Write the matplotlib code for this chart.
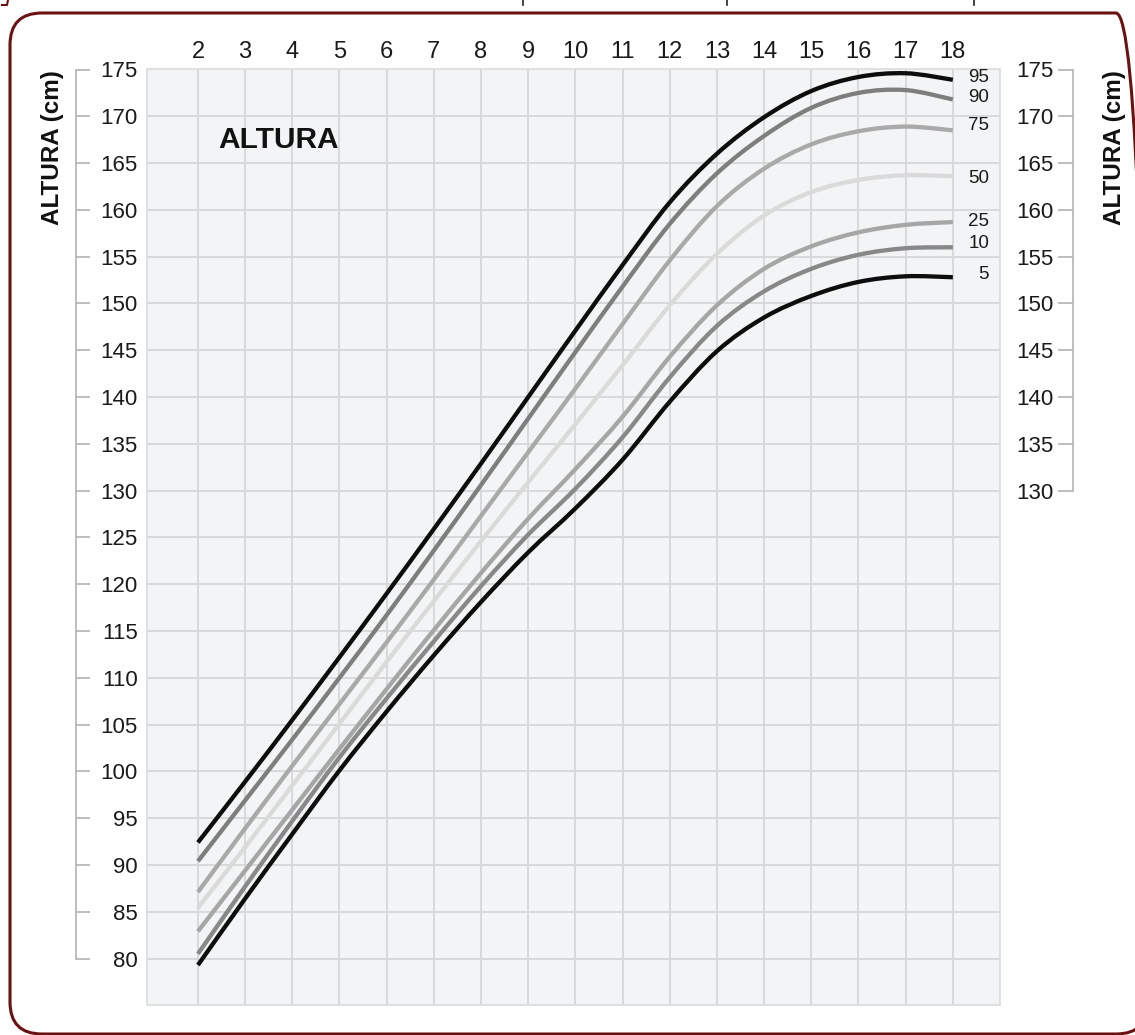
import matplotlib
matplotlib.use('Agg')
import matplotlib.pyplot as plt
from matplotlib.patches import FancyBboxPatch, PathPatch
from matplotlib.path import Path
from matplotlib.lines import Line2D
from matplotlib import font_manager

# ---------------- data ----------------
ages = [2, 3, 4, 5, 6, 7, 8, 9, 10, 11, 12, 13, 14, 15, 16, 17, 18]
p95 = [92.4, 98.9, 105.5, 112.2, 119.0, 125.9, 132.9, 140.0, 147.1, 154.1, 160.8, 166.0, 169.9, 172.7, 174.2, 174.6, 173.9]
p90 = [90.4, 96.9, 103.4, 110.0, 116.7, 123.6, 130.6, 137.7, 144.8, 151.8, 158.5, 163.9, 167.9, 170.9, 172.5, 172.8, 171.8]
p75 = [87.1, 93.9, 100.6, 107.2, 113.8, 120.5, 127.3, 134.1, 140.9, 147.8, 154.6, 160.4, 164.4, 167.0, 168.4, 168.9, 168.5]
p50 = [85.4, 91.9, 98.5, 105.1, 111.7, 118.2, 124.6, 130.9, 137.1, 143.4, 149.8, 155.3, 159.4, 161.9, 163.2, 163.7, 163.6]
p25 = [82.9, 89.4, 95.9, 102.4, 108.8, 115.1, 121.2, 127.0, 132.3, 137.9, 144.3, 149.8, 153.7, 156.1, 157.6, 158.4, 158.7]
p10 = [80.5, 87.7, 94.7, 101.5, 107.8, 113.9, 119.8, 125.3, 130.2, 135.7, 142.1, 147.6, 151.3, 153.7, 155.2, 155.9, 156.0]
p5 = [79.3, 86.4, 93.3, 100.1, 106.4, 112.4, 118.1, 123.4, 128.1, 133.3, 139.5, 144.9, 148.5, 150.8, 152.3, 152.9, 152.8]

percentile_names = ['95', '90', '75', '50', '25', '10', '5']
series = [p95, p90, p75, p50, p25, p10, p5]

left_ticks = list(range(80, 176, 5))
right_ticks = list(range(130, 176, 5))
axis_label = 'ALTURA (cm)'
panel_title = 'ALTURA'

# ---------------- styles / layout ----------------
colors = ['#0d0d0d', '#7e7e7e', '#a9a9a9', '#dadada', '#a6a6a6', '#888888', '#0d0d0d']
zorders = [9, 8, 7, 4, 5, 6, 9]
label_y = [174.1, 172.0, 169.0, 163.3, 158.8, 156.4, 153.1]

W, H = 1135, 1035
fig = plt.figure(figsize=(W / 100, H / 100), dpi=100)
fig.patch.set_facecolor('white')

names = {f.name for f in font_manager.fontManager.ttflist}
SANS = 'Liberation Sans' if 'Liberation Sans' in names else 'DejaVu Sans'
NARROW = 'Liberation Sans Narrow' if 'Liberation Sans Narrow' in names else SANS
plt.rcParams['font.family'] = [SANS, 'DejaVu Sans']


def fx(px):
    return px / W


def fy(py):
    return 1 - py / H


def smooth_path(xs, ys):
    """Cubic Bezier path passing through every data point (Catmull-Rom tangents)."""
    pts = list(zip(xs, ys))
    n = len(pts)
    verts = [pts[0]]
    codes = [Path.MOVETO]
    for i in range(n - 1):
        p0 = pts[i - 1] if i > 0 else pts[i]
        p1 = pts[i]
        p2 = pts[i + 1]
        p3 = pts[i + 2] if i + 2 < n else pts[i + 1]
        c1 = (p1[0] + (p2[0] - p0[0]) / 6, p1[1] + (p2[1] - p0[1]) / 6)
        c2 = (p2[0] - (p3[0] - p1[0]) / 6, p2[1] - (p3[1] - p1[1]) / 6)
        verts += [c1, c2, p2]
        codes += [Path.CURVE4] * 3
    return Path(verts, codes)


L, R, T, B = 147, 1000, 69.5, 1005.3
ax = fig.add_axes([fx(L), fy(B), (R - L) / W, (B - T) / H])
ax.set_xlim(0.92, 19.0)
ax.set_ylim(75, 175)
ax.set_facecolor('#f3f4f5')
ax.set_xticks(ages)
ax.set_xticklabels([str(a) for a in ages])
ax.set_yticks(left_ticks[:-1])
ax.grid(True, color='#d6d7d9', lw=1.3)
ax.set_axisbelow(True)
ax.tick_params(axis='y', length=0, labelleft=False)
ax.xaxis.tick_top()
ax.tick_params(axis='x', length=0, labelsize=17, pad=5, labelcolor='#1a1a1a')
for s in ax.spines.values():
    s.set_color('#dadbdc')
    s.set_linewidth(1.2)

for name, vals, c, z in zip(percentile_names, series, colors, zorders):
    patch = PathPatch(smooth_path(ages, vals), fill=False, ec=c, lw=3.1,
                      capstyle='butt', joinstyle='round', zorder=z)
    ax.add_patch(patch)

for name, y in zip(percentile_names, label_y):
    ax.text(18.77, y, name, ha='right', va='center', fontsize=13.5,
            family=[NARROW, 'DejaVu Sans'], color='#1a1a1a', zorder=10)

ax.text(2.42, 167.5, panel_title, fontsize=21.5, fontweight='bold',
        ha='left', va='center', color='#111111')

# left axis (spine at x=76 px, ticks pointing right, labels right-aligned)
axl = fig.add_axes([fx(76) - 0.02, fy(B), 0.02, (B - T) / H])
axl.set_ylim(75, 175)
axl.patch.set_visible(False)
for k, s in axl.spines.items():
    s.set_visible(k == 'right')
axl.spines['right'].set_bounds(80, 175)
axl.spines['right'].set_color('#b3b3b3')
axl.spines['right'].set_linewidth(1.2)
axl.set_xticks([])
axl.yaxis.tick_right()
axl.set_yticks(left_ticks)
axl.set_yticklabels([str(t) for t in left_ticks])
axl.tick_params(axis='y', direction='out', length=10, width=1.2, color='#b3b3b3',
                pad=34.5, labelsize=16, labelcolor='#1a1a1a')
for lab in axl.get_yticklabels():
    lab.set_ha('right')

# right axis (spine at x=1073 px, ticks pointing left)
axr = fig.add_axes([fx(1073), fy(B), 0.02, (B - T) / H])
axr.set_ylim(75, 175)
axr.patch.set_visible(False)
for k, s in axr.spines.items():
    s.set_visible(k == 'left')
axr.spines['left'].set_bounds(130, 175)
axr.spines['left'].set_color('#b3b3b3')
axr.spines['left'].set_linewidth(1.2)
axr.set_xticks([])
axr.set_yticks(right_ticks)
axr.set_yticklabels([str(t) for t in right_ticks])
axr.tick_params(axis='y', direction='out', length=10.8, width=1.2, color='#b3b3b3',
                pad=3, labelsize=16, labelcolor='#1a1a1a')

fig.text(fx(53), fy(148), axis_label, rotation=90, ha='center', va='center',
         fontsize=17.5, fontweight='bold', color='#111111')
fig.text(fx(1115), fy(148), axis_label, rotation=90, ha='center', va='center',
         fontsize=17.5, fontweight='bold', color='#111111')

# rounded dark-red frame (right side runs off the picture edge)
frame = FancyBboxPatch((0.10, 0.01), 11.38, 10.21,
                       boxstyle='round,pad=0,rounding_size=0.32',
                       transform=fig.dpi_scale_trans, fill=False,
                       ec='#6b1111', lw=2.2, zorder=0)
fig.add_artist(frame)

# cropped caption fragments at the very top
for px in (523, 727, 974):
    fig.add_artist(Line2D([fx(px), fx(px)], [fy(0), fy(5)], color='#222222', lw=1.2))
fig.add_artist(Line2D([fx(2), fx(7), fx(8)], [fy(5), fy(5), fy(0)], color='#6b1111', lw=1.5))

fig.savefig('out.png', dpi=100, facecolor='white')
